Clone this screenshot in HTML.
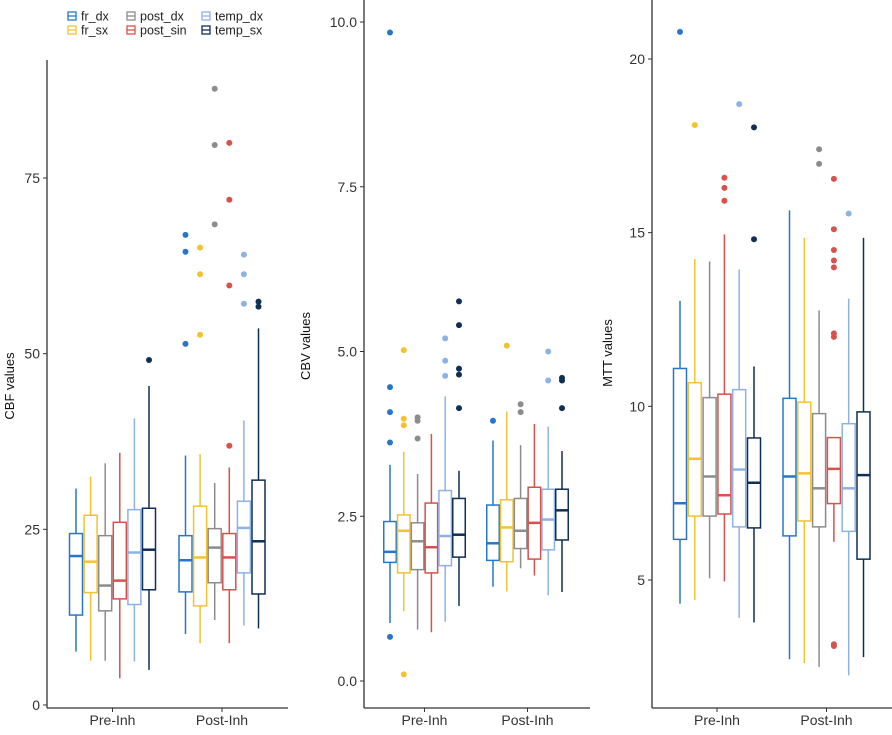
<!DOCTYPE html>
<html><head><meta charset="utf-8">
<style>
body{margin:0;background:#fff;width:892px;height:730px;overflow:hidden;font-family:"Liberation Sans",sans-serif}
svg text{font-family:"Liberation Sans",sans-serif}
</style></head><body>
<svg id="chart" width="892" height="730" viewBox="0 0 892 730" xmlns="http://www.w3.org/2000/svg"></svg>
<script>
const categories = ["Pre-Inh","Post-Inh"];
const seriesNames = ["fr_dx","fr_sx","post_dx","post_sin","temp_dx","temp_sx"];
const seriesColors = ["#2677cc","#f2c230","#8c8c8c","#d9504c","#8db2e6","#102f55"];
// [low whisker, q1, median, q3, high whisker] — Pre (6) then Post (6)
const cbfStats = [
 [7.6,12.8,21.2,24.4,30.8],[6.3,16.0,20.4,27.0,32.5],[6.3,13.4,17.0,24.1,34.4],[3.8,15.1,17.7,26.0,35.9],[6.2,14.3,21.7,27.8,40.8],[5.0,16.4,22.1,28.0,45.4],
 [10.1,16.1,20.6,24.1,35.5],[8.8,14.1,21.0,28.3,35.7],[12.1,17.4,22.4,25.1,31.6],[8.8,16.4,21.0,24.4,33.8],[11.3,18.8,25.2,29.0,40.5],[10.9,15.8,23.3,32.0,53.6]];
const cbfOutliers = [[],[],[],[],[],[49.1],
 [51.4,64.5,66.9],[52.7,61.3,65.1],[68.4,79.7,87.7],[36.9,59.7,71.9,80.0],[57.1,61.3,64.1],[56.7,57.4]];
const cbvStats = [
 [0.88,1.8,1.96,2.42,3.28],[1.06,1.64,2.28,2.52,3.48],[0.78,1.69,2.12,2.4,3.14],[0.74,1.64,2.03,2.7,3.75],[0.9,1.75,2.2,2.89,4.32],[1.14,1.88,2.22,2.77,3.19],
 [1.43,1.83,2.09,2.67,3.65],[1.36,1.81,2.33,2.75,4.09],[1.71,2.01,2.28,2.77,3.58],[1.6,1.85,2.4,2.94,3.9],[1.3,1.99,2.45,2.91,3.86],[1.35,2.14,2.59,2.91,3.49]];
const cbvOutliers = [[0.67,3.62,4.08,4.46,9.84],[0.1,3.88,3.98,5.02],[3.68,3.95,4.0],[],[4.63,4.86,5.2],[4.14,4.65,4.74,5.4,5.76],
 [3.95],[5.09],[4.08,4.2],[],[4.56,5.0],[4.14,4.56,4.6]];
const mttStats = [
 [4.32,6.17,7.21,11.09,13.04],[4.42,6.84,8.49,10.68,14.24],[5.05,6.84,7.98,10.25,14.17],[4.96,6.9,7.44,10.35,14.95],[3.91,6.53,8.18,10.48,13.94],[3.78,6.5,7.8,9.09,11.15],
 [2.72,6.27,7.98,10.23,15.64],[2.61,6.7,8.07,10.12,14.85],[2.5,6.53,7.64,9.79,12.76],[6.1,7.2,8.2,9.1,9.1],[2.25,6.4,7.64,9.5,13.1],[2.78,5.6,8.02,9.84,14.85]];
const mttOutliers = [[20.78],[18.1],[],[15.92,16.29,16.58],[18.7],[14.81,18.03],
 [],[],[16.98,17.4],[3.1,3.15,12.0,12.1,14.0,14.2,14.5,15.1,16.55],[15.55],[]];
const cbfTicks = ["0","25","50","75"];
const cbvTicks = ["0.0","2.5","5.0","7.5","10.0"];
const mttTicks = ["5","10","15","20"];

const NS="http://www.w3.org/2000/svg";
const svg=document.getElementById('chart');
function mk(tag,attrs,parent){const e=document.createElementNS(NS,tag);for(const k in attrs)e.setAttribute(k,attrs[k]);(parent||svg).appendChild(e);return e;}

const panels=[
 {key:'cbf',title:'CBF values',stats:cbfStats,out:cbfOutliers,ticks:cbfTicks,tickVals:[0,25,50,75],v0:0,y0:705,v1:75,y1:178,ax:47,top:60,right:288,groups:[112.5,222],step:14.6,bw:13,titleX:14,titleY:386},
 {key:'cbv',title:'CBV values',stats:cbvStats,out:cbvOutliers,ticks:cbvTicks,tickVals:[0,2.5,5,7.5,10],v0:0,y0:681,v1:10,y1:22,ax:364,top:0,right:590,groups:[424.5,527.5],step:13.8,bw:12.5,titleX:310,titleY:346},
 {key:'mtt',title:'MTT values',stats:mttStats,out:mttOutliers,ticks:mttTicks,tickVals:[5,10,15,20],v0:5,y0:580,v1:20,y1:59,ax:652,top:0,right:892,groups:[717,826.5],step:14.8,bw:13,titleX:612,titleY:353}
];
const axisY=708;
panels.forEach(p=>{
  const g=mk('g',{});
  
  
  const y=v=>p.y0+(v-p.v0)*(p.y1-p.y0)/(p.v1-p.v0);
  const xs=(ci,si)=>p.groups[ci]+(si-2.5)*p.step;
  // axes
  const ya=mk('line',{x1:p.ax,y1:p.top,x2:p.ax,y2:axisY,stroke:'#333','stroke-width':1.3},g);
  
  const xa=mk('line',{x1:p.ax,y1:axisY,x2:p.right,y2:axisY,stroke:'#333','stroke-width':1.3},g);
  
  p.ticks.forEach((t,i)=>{
    const yy=y(p.tickVals[i]);
    mk('line',{x1:p.ax-4,y1:yy,x2:p.ax,y2:yy,stroke:'#333','stroke-width':1},g);
    const tx=mk('text',{x:p.ax-7,y:yy+5,'text-anchor':'end','font-size':14,fill:'#333'},g);
    tx.textContent=t;
    
  });
  categories.forEach((c,ci)=>{
    const cx=p.groups[ci];
    mk('line',{x1:cx,y1:axisY,x2:cx,y2:axisY+4,stroke:'#333','stroke-width':1},g);
    const tx=mk('text',{x:cx,y:axisY+17,'text-anchor':'middle','font-size':14,fill:'#333'},g);
    tx.textContent=c;
    
  });
  const tt=mk('text',{x:p.titleX,y:p.titleY,'text-anchor':'middle','font-size':13,fill:'#111',transform:`rotate(-90 ${p.titleX} ${p.titleY})`},g);
  tt.textContent=p.title;
  
  // boxes
  p.stats.forEach((s,i)=>{
    const ci=Math.floor(i/6),si=i%6,cx=xs(ci,si),col=seriesColors[si];
    const bg=mk('g',{},g);
    
    
    mk('line',{x1:cx,y1:y(s[0]),x2:cx,y2:y(s[1]),stroke:col,'stroke-width':1.5},bg);
    mk('line',{x1:cx,y1:y(s[3]),x2:cx,y2:y(s[4]),stroke:col,'stroke-width':1.5},bg);
    mk('rect',{x:cx-p.bw/2,y:y(s[3]),width:p.bw,height:y(s[1])-y(s[3]),fill:'#fff',stroke:col,'stroke-width':1.5},bg);
    mk('line',{x1:cx-p.bw/2,y1:y(s[2]),x2:cx+p.bw/2,y2:y(s[2]),stroke:col,'stroke-width':2.5},bg);
    p.out[i].forEach(v=>{
      const c=mk('circle',{cx:cx,cy:y(v),r:3,fill:col},bg);
      
      
    });
  });
});
// legend
const leg=mk('g',{});


const legX=[72,131,206],legY=[16,30];
seriesNames.forEach((n,i)=>{
  const col=Math.floor(i/2),row=i%2,lx=legX[col],ly=legY[row];
  const e=mk('g',{},leg);
  
  
  mk('rect',{x:lx-4,y:ly-4,width:8,height:8,fill:'#fff',stroke:seriesColors[i],'stroke-width':1.3},e);
  mk('line',{x1:lx-4,y1:ly,x2:lx+4,y2:ly,stroke:seriesColors[i],'stroke-width':1.3},e);
  const t=mk('text',{x:lx+9,y:ly+4.5,'font-size':12.5,fill:'#222'},e);
  t.textContent=n;
});
</script>
</body></html>
